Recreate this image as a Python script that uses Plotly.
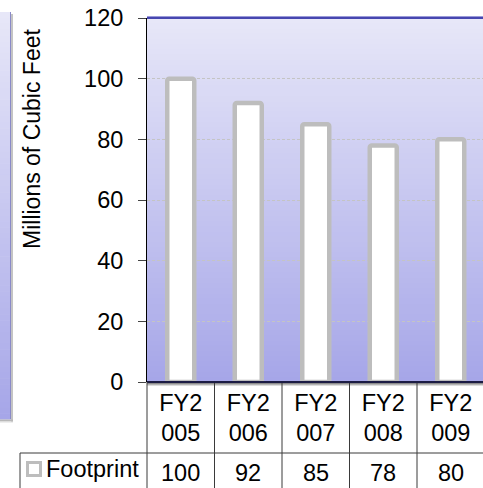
import plotly.graph_objects as go

# Footprint volume by fiscal year (millions of cubic feet)
categories = ["FY2<br>005", "FY2<br>006", "FY2<br>007", "FY2<br>008", "FY2<br>009"]
footprint = [100, 92, 85, 78, 80]
series_name = "Footprint"
y_ticks = [0, 20, 40, 60, 80, 100, 120]
y_title = "Millions of Cubic Feet"

W, H = 483, 488
ML, MR, MT, MB = 147, 0, 18, 106
PW, PH = W - ML - MR, H - MT - MB
FONT = "Liberation Sans, Arial, sans-serif"
FS = 23.5

positions = list(range(len(categories)))


def px(xp):
    """pixel x -> paper x"""
    return (xp - ML) / PW


def py(yp):
    """pixel y -> paper y"""
    return (H - MB - yp) / PH


def lerp(c1, c2, t):
    return "rgb(%d,%d,%d)" % tuple(round(a + (b - a) * t) for a, b in zip(c1, c2))


TOP_C = (231, 231, 248)
BOT_C = (166, 166, 232)

shapes = []

# vertical gradient behind the plot area
N = 70
for i in range(N):
    t0, t1 = i / N, (i + 1) / N
    shapes.append(dict(type="rect", xref="paper", yref="paper", layer="below",
                       x0=0, x1=1, y0=1 - t1 - 0.002, y1=1 - t0,
                       fillcolor=lerp(TOP_C, BOT_C, (i + 0.5) / N), line_width=0))

# neighbouring panel on the left edge
LP_TOP, LP_BOT, LP_R = 12, 419, 11
for i in range(N):
    t0, t1 = i / N, (i + 1) / N
    ya = LP_TOP + (LP_BOT - LP_TOP) * t0
    yb = LP_TOP + (LP_BOT - LP_TOP) * t1 + 0.6
    shapes.append(dict(type="rect", xref="paper", yref="paper", layer="below",
                       x0=px(0), x1=px(LP_R), y0=py(yb), y1=py(ya),
                       fillcolor=lerp(TOP_C, BOT_C, (i + 0.5) / N), line_width=0))
shapes += [
    dict(type="line", xref="paper", yref="paper", x0=px(LP_R - 0.5), x1=px(LP_R - 0.5),
         y0=py(LP_TOP), y1=py(LP_BOT), line=dict(color="#8a8ac8", width=1)),
    dict(type="line", xref="paper", yref="paper", x0=px(LP_R + 1), x1=px(LP_R + 1),
         y0=py(LP_TOP + 2), y1=py(LP_BOT + 3), line=dict(color="#c4c4c4", width=2)),
    dict(type="line", xref="paper", yref="paper", x0=px(0), x1=px(LP_R + 2),
         y0=py(LP_BOT + 1.5), y1=py(LP_BOT + 1.5), line=dict(color="#b8b8b8", width=2)),
    dict(type="line", xref="paper", yref="paper", x0=px(0), x1=px(LP_R + 2),
         y0=py(LP_BOT + 3), y1=py(LP_BOT + 3), line=dict(color="#dedede", width=1)),
]

# plot frame: top edge in blue, bottom edge in navy with a soft shadow
shapes += [
    dict(type="line", xref="paper", yref="paper", x0=0, x1=1, y0=py(16.5), y1=py(16.5),
         line=dict(color="#9a9ad8", width=1)),
    dict(type="line", xref="paper", yref="paper", x0=0, x1=1, y0=py(18), y1=py(18),
         line=dict(color="#4646b0", width=2)),
    dict(type="line", xref="paper", yref="paper", x0=0, x1=1, y0=py(383.5), y1=py(383.5),
         line=dict(color="#8c8c8c", width=1)),
    dict(type="line", xref="paper", yref="paper", x0=0, x1=1, y0=py(384.5), y1=py(384.5),
         line=dict(color="#b4b4b4", width=1)),
    dict(type="line", xref="paper", yref="paper", x0=0, x1=1, y0=py(385.5), y1=py(385.5),
         line=dict(color="#dcdcdc", width=1)),
    dict(type="line", xref="paper", yref="paper", x0=0, x1=1, y0=py(382), y1=py(382),
         line=dict(color="#1c1c44", width=2), layer="above"),
]

# data table grid below the plot
TABLE_C = "#3a3a3a"
shapes.append(dict(type="line", xref="paper", yref="paper", x0=0, x1=0,
                   y0=py(382), y1=py(H + 2), line=dict(color=TABLE_C, width=1)))
for p in positions[:-1]:
    shapes.append(dict(type="line", xref="x", yref="paper", x0=p + 0.5, x1=p + 0.5,
                       y0=py(383), y1=py(H + 2), line=dict(color=TABLE_C, width=1)))
shapes += [
    dict(type="line", xref="paper", yref="paper", x0=px(20), x1=1,
         y0=py(453), y1=py(453), line=dict(color=TABLE_C, width=1)),
    dict(type="line", xref="paper", yref="paper", x0=px(20), x1=px(20),
         y0=py(453), y1=py(H + 2), line=dict(color=TABLE_C, width=1)),
    # legend key for the series
    dict(type="rect", xref="paper", yref="paper", x0=px(27.5), x1=px(40.5),
         y0=py(475.5), y1=py(462.5), fillcolor="white", line=dict(color="#bdbdbd", width=3)),
]

annotations = [
    dict(text=y_title, textangle=-90, xref="paper", yref="paper", x=px(32), y=py(139),
         xanchor="center", yanchor="middle", showarrow=False,
         font=dict(family=FONT, size=23, color="black")),
    dict(text=series_name, xref="paper", yref="paper", x=px(44.5), y=py(469),
         xanchor="left", yanchor="middle", showarrow=False,
         font=dict(family=FONT, size=FS, color="black")),
]
for p, v in zip(positions, footprint):
    annotations.append(dict(text=str(v), xref="x", yref="paper", x=p, y=py(473),
                            xanchor="center", yanchor="middle", showarrow=False,
                            font=dict(family=FONT, size=FS, color="black")))

fig = go.Figure(go.Bar(
    x=positions, y=footprint, name=series_name, width=0.4,
    marker=dict(color="white", line=dict(color="#bdbdbd", width=4.5), cornerradius=2),
    showlegend=False, hoverinfo="skip",
))

fig.update_layout(
    width=W, height=H,
    margin=dict(l=ML, r=MR, t=MT, b=MB, pad=0),
    paper_bgcolor="white", plot_bgcolor="rgba(0,0,0,0)",
    font=dict(family=FONT, size=FS, color="black"),
    shapes=shapes, annotations=annotations,
    xaxis=dict(
        range=[-0.5, -0.5 + PW / 67.5], tickmode="array", tickvals=positions,
        ticktext=categories, ticks="", showline=False, showgrid=False,
        zeroline=False, fixedrange=True, ticklabelstandoff=4,
        tickfont=dict(family=FONT, size=FS, color="black"),
    ),
    yaxis=dict(
        range=[0, 120], tickmode="array", tickvals=y_ticks, ticks="outside",
        ticklen=8, tickcolor="#444", tickwidth=1, showline=True, linecolor="black",
        linewidth=1, showgrid=True, gridcolor="#c4c4c4", griddash="3px,2px",
        gridwidth=1, zeroline=False, fixedrange=True, ticklabelstandoff=10,
        tickfont=dict(family=FONT, size=FS, color="black"),
    ),
)

fig.write_html("out.html", config={"displayModeBar": False})
